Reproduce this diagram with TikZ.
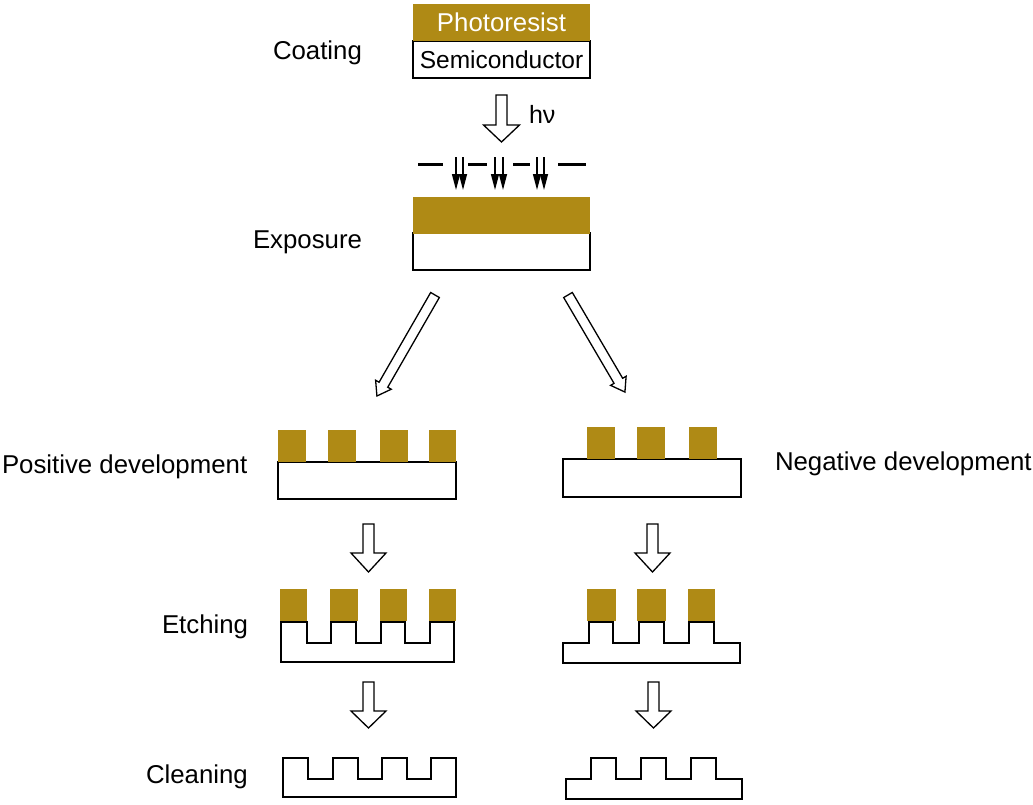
\documentclass[tikz,border=0pt]{standalone}
\usepackage{fontspec}
\setmainfont{Liberation Sans}
\usetikzlibrary{arrows.meta}
\definecolor{gold}{RGB}{175,138,21}
% #1 tail coordinate, #2 angle, #3 length, #4 head length, #5 head half width, #6 shaft half width
\newcommand\blockarrow[6]{%
  \draw[barrow, shift={(#1)}, rotate=#2]
    (0pt,#6pt) -- ({#3pt-#4pt},#6pt) -- ({#3pt-#4pt},#5pt) -- (#3pt,0pt)
    -- ({#3pt-#4pt},-#5pt) -- ({#3pt-#4pt},-#6pt) -- (0pt,-#6pt) -- cycle;}
\begin{document}
\begin{tikzpicture}[x=1pt,y=-1pt,
  lbl/.style={inner sep=0pt, outer sep=0pt, anchor=base west, font=\fontsize{25.8}{30}\selectfont},
  resist/.style={fill=gold, draw=none, inner sep=0pt, outer sep=0pt},
  substrate/.style={draw=black, line width=1.6pt, fill=white, inner sep=0pt, outer sep=0pt},
  profile/.style={draw=black, line width=1.8pt, line join=miter},
  barrow/.style={draw=black, line width=1.3pt, fill=white, line join=miter},
  mask/.style={draw=black, line width=3pt},
  ray/.style={draw=black, line width=1.4pt, -{Triangle[length=16pt,width=8pt]}}]
\useasboundingbox (0,0) rectangle (1033,804);

% ---------- Coating ----------
\node[lbl] (tcoat) at (273,59) {Coating};
\node[substrate, minimum width=177pt, minimum height=37pt, font=\fontsize{24.5}{28}\selectfont] (semi) at (501.5,59.5) {Semiconductor};
\node[resist, minimum width=177pt, minimum height=37pt, text=white, font=\fontsize{25.8}{30}\selectfont] (pr) at (501.5,22.5) {Photoresist};

% arrow h nu
\coordinate (a0) at (501.5,95);
\blockarrow{a0}{-90}{47}{17}{18}{5.5}
\node[lbl, font=\fontsize{25}{28}\selectfont] (hnu) at (529,123) {hν};

% ---------- mask and rays ----------
\coordinate (m1a) at (418,164); \coordinate (m1b) at (443,164);
\coordinate (m2a) at (468,164); \coordinate (m2b) at (487,164);
\coordinate (m3a) at (513,164); \coordinate (m3b) at (530,164);
\coordinate (m4a) at (558,164); \coordinate (m4b) at (586,164);
\draw[mask] (m1a) -- (m1b);
\draw[mask] (m2a) -- (m2b);
\draw[mask] (m3a) -- (m3b);
\draw[mask] (m4a) -- (m4b);
\foreach \x [count=\i] in {456,463,495,503,537,544}{
  \coordinate (r\i s) at (\x,157);
  \coordinate (r\i e) at (\x,190);
  \draw[ray] (r\i s) -- (r\i e);
}

% ---------- Exposure ----------
\node[lbl] (texp) at (253,248) {Exposure};
\node[substrate, minimum width=177pt, minimum height=37pt] (esemi) at (501.5,251.5) {};
\node[resist, minimum width=177pt, minimum height=37pt] (epr) at (501.5,215) {};

% diagonal arrows
\coordinate (dl) at (435,295);
\blockarrow{dl}{240.1}{116.5}{13}{9}{5}
\coordinate (dr) at (568,295);
\blockarrow{dr}{300.4}{112.5}{13}{9}{5}

% ---------- Positive development ----------
\node[lbl] (tpos) at (2,473) {Positive development};
\node[substrate, minimum width=178pt, minimum height=37pt] (psub) at (367,480.5) {};
\foreach \a/\b [count=\i] in {278/306,328/356,380/408,429/456}{
  \path[resist] (\a,430) rectangle (\b,462);
}

% ---------- Negative development ----------
\node[lbl] (tneg) at (775,470) {Negative development};
\node[substrate, minimum width=178pt, minimum height=38pt] (nsub) at (652,478) {};
\foreach \a/\b in {587/615,637/665,689/717}{
  \path[resist] (\a,427) rectangle (\b,459);
}

% arrows to etching
\coordinate (al1) at (368.5,524);
\blockarrow{al1}{-90}{48}{19}{17.5}{5.5}
\coordinate (ar1) at (652.5,524);
\blockarrow{ar1}{-90}{48}{19}{17.5}{5.5}

% ---------- Etching ----------
\node[lbl] (tetch) at (162,633) {Etching};
\foreach \a/\b in {280/307,330/358,380/407,429/456}{
  \path[resist] (\a,589) rectangle (\b,621);
}
\draw[profile] (281,622) -- (307,622) -- (307,643) -- (331,643) -- (331,622) -- (356,622)
  -- (356,643) -- (381,643) -- (381,622) -- (405,622) -- (405,643) -- (430,643)
  -- (430,622) -- (454,622) -- (454,662) -- (281,662) -- cycle;
\foreach \a/\b in {587/616,637/666,688/715}{
  \path[resist] (\a,589) rectangle (\b,621);
}
\draw[profile] (563,643) -- (589,643) -- (589,622) -- (613,622) -- (613,643) -- (639,643)
  -- (639,622) -- (664,622) -- (664,643) -- (689,643) -- (689,622) -- (714,622)
  -- (714,643) -- (740,643) -- (740,663) -- (563,663) -- cycle;

% arrows to cleaning
\coordinate (al2) at (368.5,682);
\blockarrow{al2}{-90}{46}{17}{17.5}{5.5}
\coordinate (ar2) at (653.5,682);
\blockarrow{ar2}{-90}{46}{17}{17.5}{5.5}

% ---------- Cleaning ----------
\node[lbl] (tclean) at (146,783) {Cleaning};
\draw[profile] (283,758) -- (308,758) -- (308,779) -- (333,779) -- (333,758) -- (358,758)
  -- (358,779) -- (382,779) -- (382,758) -- (407,758) -- (407,779) -- (431,779)
  -- (431,758) -- (456,758) -- (456,797) -- (283,797) -- cycle;
\draw[profile] (566,779) -- (591,779) -- (591,758) -- (616,758) -- (616,779) -- (641,779)
  -- (641,758) -- (666,758) -- (666,779) -- (691,779) -- (691,758) -- (716,758)
  -- (716,779) -- (742,779) -- (742,799) -- (566,799) -- cycle;
\end{tikzpicture}
\end{document}
